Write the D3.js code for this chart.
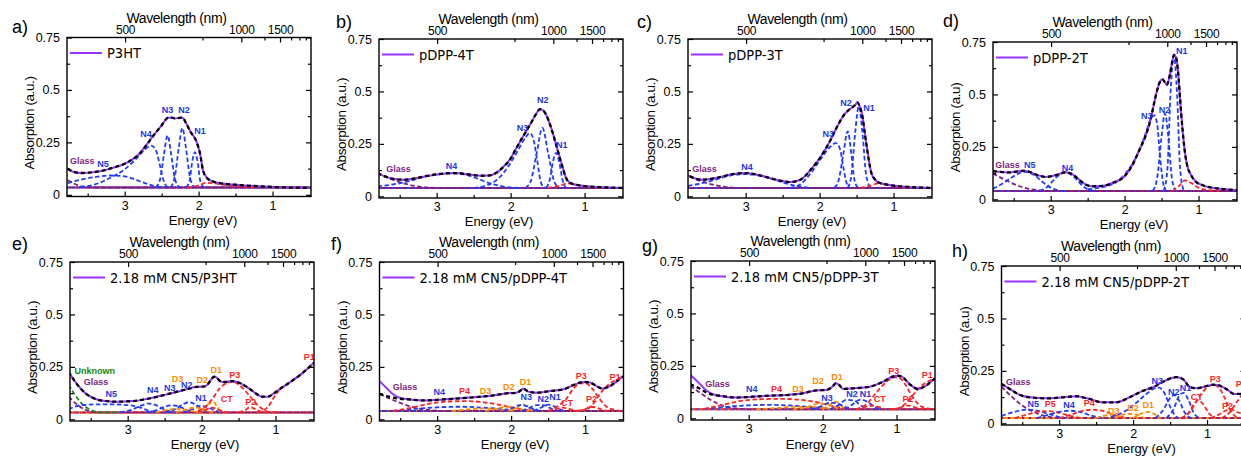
<!DOCTYPE html>
<html><head><meta charset="utf-8">
<script src="https://cdn.jsdelivr.net/npm/d3@7"></script>
<style>
html,body{margin:0;padding:0;background:#fff;}
svg{display:block;}
</style></head><body>
<svg id="fig" width="1241" height="456"></svg>
<script>
// ---------- shared axes ----------
const energyDomain = [3.78, 0.48];           // eV, high energy on the left
const wavelengthDomain = [400, 2500];         // nm, top axis on a reciprocal scale
const absorptionDomain = [-0.008, 0.75];
const absorptionTicks = [0, 0.25, 0.5, 0.75];
const absorptionTickLabels = ["0", "0.25", "0.5", "0.75"];
const absorptionMinorTicks = [0.125, 0.375, 0.625];
const energyTicks = [3, 2, 1];
const energyMinorTicks = [3.5, 2.5, 1.5];
const wavelengthTicks = [500, 1000, 1500];
const wavelengthMinorTicks = [750, 1250, 1750, 2000, 2250];

// ---------- a) P3HT ----------
const aMeasured = [[3.77,0.124],[3.68,0.108],[3.58,0.104],[3.45,0.107],[3.3,0.115],[3.15,0.13],[3.0,0.148],[2.9,0.168],[2.8,0.196],[2.7,0.24],[2.61,0.283],[2.5,0.331],[2.41,0.368],[2.36,0.368],[2.32,0.364],[2.26,0.367],[2.22,0.368],[2.16,0.335],[2.1,0.295],[2.05,0.27],[2.02,0.245],[1.98,0.196],[1.94,0.116],[1.88,0.078],[1.8,0.063],[1.7,0.055],[1.5,0.048],[1.2,0.041],[0.9,0.036],[0.48,0.033]];
const aBaseline = [[3.78,0.035],[0.48,0.035]];
const aGlass = [[3.77,0.07],[3.7,0.056],[3.62,0.044],[3.52,0.037],[3.4,0.035],[0.48,0.035]];
const aN5 = [[3.77,0.056],[3.6,0.072],[3.4,0.085],[3.2,0.092],[3.0,0.088],[2.85,0.072],[2.72,0.055],[2.6,0.042],[2.5,0.035]];
const aN4 = [[3.6,0.037],[3.4,0.05],[3.2,0.08],[3.0,0.122],[2.85,0.17],[2.73,0.215],[2.64,0.235],[2.58,0.215],[2.53,0.15],[2.48,0.075],[2.43,0.04],[2.38,0.035]];
const aN3 = [[2.58,0.035],[2.52,0.075],[2.47,0.19],[2.42,0.283],[2.37,0.19],[2.32,0.075],[2.26,0.035]];
const aN2 = [[2.38,0.035],[2.32,0.09],[2.27,0.22],[2.22,0.318],[2.17,0.22],[2.12,0.09],[2.06,0.035]];
const aN1 = [[2.17,0.035],[2.12,0.07],[2.09,0.15],[2.05,0.204],[2.01,0.15],[1.98,0.07],[1.93,0.035]];
const aP = [[2.15,0.035],[2.0,0.045],[1.9,0.057],[1.8,0.055],[1.65,0.047],[1.45,0.04],[1.2,0.035]];

// ---------- b) pDPP-4T ----------
const bMeasured = [[3.8,0.111],[3.7,0.095],[3.6,0.084],[3.45,0.079],[3.3,0.085],[3.15,0.096],[2.92,0.108],[2.74,0.111],[2.56,0.104],[2.4,0.098],[2.3,0.099],[2.2,0.111],[2.1,0.14],[2.0,0.18],[1.93,0.225],[1.85,0.275],[1.79,0.31],[1.72,0.352],[1.66,0.39],[1.6,0.415],[1.56,0.41],[1.52,0.389],[1.47,0.345],[1.43,0.302],[1.38,0.24],[1.34,0.191],[1.29,0.13],[1.25,0.087],[1.2,0.066],[1.16,0.059],[1.0,0.049],[0.8,0.044],[0.48,0.04]];
const bBaseline = [[3.78,0.04],[0.48,0.04]];
const bGlass = [[3.8,0.111],[3.7,0.095],[3.6,0.08],[3.45,0.062],[3.3,0.05],[3.15,0.043],[3.0,0.04],[0.48,0.04]];
const bN4 = [[3.8,0.048],[3.6,0.056],[3.4,0.07],[3.2,0.09],[3.0,0.104],[2.8,0.11],[2.6,0.102],[2.45,0.085],[2.3,0.064],[2.15,0.05],[2.0,0.042],[1.85,0.04]];
const bN3 = [[2.5,0.04],[2.3,0.055],[2.15,0.09],[2.0,0.16],[1.9,0.22],[1.8,0.28],[1.74,0.302],[1.69,0.27],[1.64,0.17],[1.6,0.08],[1.56,0.045],[1.52,0.04]];
const bN2 = [[1.8,0.04],[1.73,0.07],[1.65,0.2],[1.57,0.326],[1.49,0.2],[1.41,0.07],[1.34,0.04]];
const bN1 = [[1.52,0.04],[1.47,0.08],[1.43,0.16],[1.385,0.207],[1.34,0.16],[1.3,0.08],[1.25,0.04]];
const bP = [[1.5,0.04],[1.35,0.05],[1.22,0.062],[1.1,0.055],[0.95,0.045],[0.8,0.04]];

// ---------- c) pDPP-3T ----------
const cMeasured = [[3.84,0.111],[3.72,0.09],[3.59,0.079],[3.4,0.087],[3.22,0.103],[3.0,0.111],[2.81,0.1],[2.6,0.08],[2.4,0.068],[2.26,0.079],[2.12,0.127],[1.98,0.191],[1.85,0.27],[1.76,0.334],[1.66,0.393],[1.57,0.421],[1.52,0.435],[1.49,0.448],[1.46,0.43],[1.43,0.397],[1.37,0.254],[1.3,0.111],[1.25,0.08],[1.21,0.067],[1.02,0.052],[0.8,0.045],[0.48,0.04]];
const cBaseline = [[3.78,0.04],[0.48,0.04]];
const cGlass = [[3.84,0.111],[3.7,0.085],[3.55,0.066],[3.4,0.052],[3.25,0.044],[3.1,0.04],[0.48,0.04]];
const cN4 = [[3.78,0.05],[3.6,0.062],[3.4,0.08],[3.2,0.1],[3.0,0.106],[2.8,0.098],[2.6,0.078],[2.42,0.058],[2.25,0.046],[2.1,0.04]];
const cN3 = [[2.4,0.04],[2.25,0.06],[2.12,0.11],[1.98,0.18],[1.86,0.235],[1.78,0.254],[1.72,0.22],[1.68,0.14],[1.64,0.07],[1.6,0.04]];
const cN2 = [[1.8,0.04],[1.74,0.08],[1.68,0.2],[1.62,0.31],[1.57,0.2],[1.53,0.08],[1.48,0.04]];
const cN1 = [[1.62,0.04],[1.57,0.1],[1.52,0.3],[1.47,0.43],[1.42,0.3],[1.37,0.1],[1.31,0.04]];
const cP = [[1.45,0.04],[1.3,0.052],[1.2,0.062],[1.1,0.056],[0.95,0.046],[0.8,0.04]];

// ---------- d) pDPP-2T ----------
const dMeasured = [[3.78,0.134],[3.65,0.13],[3.56,0.128],[3.45,0.133],[3.38,0.136],[3.28,0.13],[3.2,0.118],[3.07,0.107],[2.93,0.115],[2.8,0.129],[2.71,0.12],[2.62,0.095],[2.57,0.08],[2.44,0.062],[2.3,0.064],[2.15,0.08],[2.0,0.11],[1.9,0.16],[1.8,0.235],[1.72,0.3],[1.65,0.378],[1.6,0.46],[1.56,0.52],[1.52,0.562],[1.49,0.572],[1.46,0.56],[1.43,0.546],[1.39,0.59],[1.36,0.649],[1.33,0.689],[1.3,0.67],[1.28,0.62],[1.25,0.48],[1.22,0.346],[1.19,0.24],[1.16,0.171],[1.1,0.115],[1.04,0.085],[0.95,0.068],[0.87,0.059],[0.7,0.05],[0.48,0.043]];
const dBaseline = [[3.78,0.04],[0.48,0.04]];
const dGlass = [[3.78,0.123],[3.6,0.09],[3.45,0.066],[3.3,0.05],[3.15,0.043],[3.0,0.04],[0.48,0.04]];
const dN5 = [[3.78,0.05],[3.65,0.075],[3.5,0.11],[3.36,0.131],[3.22,0.115],[3.1,0.08],[2.98,0.052],[2.88,0.042],[2.8,0.04]];
const dN4 = [[3.15,0.04],[3.05,0.058],[2.93,0.103],[2.8,0.128],[2.68,0.105],[2.56,0.062],[2.46,0.042],[2.38,0.04]];
const dN3 = [[2.5,0.048],[2.3,0.058],[2.1,0.085],[1.95,0.14],[1.82,0.22],[1.72,0.31],[1.64,0.39],[1.6,0.4],[1.56,0.36],[1.52,0.2],[1.48,0.08],[1.44,0.04]];
const dN2 = [[1.62,0.04],[1.56,0.1],[1.5,0.3],[1.455,0.41],[1.41,0.3],[1.36,0.1],[1.31,0.04]];
const dN1 = [[1.47,0.04],[1.42,0.15],[1.38,0.5],[1.335,0.685],[1.29,0.5],[1.25,0.15],[1.2,0.04]];
const dP = [[1.35,0.04],[1.26,0.065],[1.18,0.09],[1.1,0.078],[1.0,0.055],[0.9,0.045],[0.7,0.04]];

// ---------- e) 2.18 mM CN5/P3HT ----------
const eMeasured = [[3.8,0.227],[3.71,0.179],[3.64,0.148],[3.57,0.124],[3.48,0.104],[3.39,0.092],[3.28,0.087],[3.16,0.084],[2.93,0.087],[2.7,0.1],[2.47,0.119],[2.24,0.14],[2.06,0.155],[1.97,0.156],[1.93,0.162],[1.88,0.185],[1.83,0.203],[1.8,0.2],[1.76,0.185],[1.72,0.178],[1.67,0.178],[1.6,0.182],[1.53,0.179],[1.47,0.171],[1.4,0.157],[1.33,0.14],[1.26,0.122],[1.19,0.108],[1.1,0.108],[1.03,0.122],[0.96,0.14],[0.83,0.171],[0.64,0.219],[0.48,0.27]];
const eBaseline = [[3.78,0.033],[0.48,0.033]];
const eUnknown = [[3.8,0.165],[3.72,0.12],[3.62,0.075],[3.52,0.048],[3.42,0.036],[3.3,0.033],[3.1,0.033]];
const eGlass = [[3.8,0.108],[3.7,0.075],[3.6,0.05],[3.5,0.038],[3.4,0.033],[0.48,0.033]];
const eN5 = [[3.8,0.048],[3.65,0.066],[3.45,0.071],[3.2,0.071],[3.0,0.068],[2.85,0.058],[2.72,0.042],[2.62,0.033]];
const eN4 = [[3.1,0.033],[2.95,0.045],[2.82,0.065],[2.72,0.075],[2.62,0.068],[2.52,0.05],[2.42,0.036],[2.32,0.033]];
const eN3 = [[2.75,0.033],[2.6,0.045],[2.5,0.06],[2.4,0.067],[2.3,0.06],[2.2,0.045],[2.1,0.033]];
const eN2 = [[2.5,0.033],[2.35,0.05],[2.25,0.072],[2.17,0.082],[2.09,0.072],[2.0,0.05],[1.9,0.033]];
const eN1 = [[2.25,0.033],[2.12,0.048],[2.02,0.064],[1.94,0.06],[1.84,0.045],[1.74,0.033]];
const eD3 = [[2.62,0.033],[2.48,0.044],[2.34,0.05],[2.2,0.045],[2.06,0.035],[1.98,0.033]];
const eD2 = [[2.35,0.033],[2.22,0.045],[2.1,0.056],[1.99,0.05],[1.9,0.036],[1.84,0.033]];
const eD1 = [[2.08,0.033],[1.98,0.05],[1.9,0.074],[1.84,0.082],[1.79,0.06],[1.75,0.036],[1.72,0.033]];
const eCT = [[2.05,0.033],[1.95,0.045],[1.86,0.056],[1.77,0.046],[1.67,0.034],[1.6,0.033]];
const eP3 = [[2.05,0.04],[1.95,0.06],[1.85,0.1],[1.75,0.15],[1.65,0.174],[1.58,0.179],[1.5,0.166],[1.42,0.14],[1.3,0.09],[1.2,0.055],[1.1,0.036],[1.0,0.033]];
const eP2 = [[1.5,0.033],[1.42,0.043],[1.34,0.058],[1.26,0.046],[1.17,0.034],[1.1,0.033]];
const eP1 = [[1.25,0.033],[1.17,0.042],[1.1,0.06],[1.03,0.1],[0.96,0.135],[0.83,0.17],[0.64,0.219],[0.48,0.27]];

// ---------- f) 2.18 mM CN5/pDPP-4T ----------
const fMeasured = [[3.78,0.182],[3.69,0.151],[3.62,0.127],[3.56,0.111],[3.47,0.1],[3.38,0.095],[3.15,0.09],[2.92,0.095],[2.7,0.1],[2.47,0.106],[2.24,0.114],[2.06,0.124],[1.93,0.127],[1.88,0.135],[1.84,0.146],[1.8,0.14],[1.77,0.132],[1.66,0.127],[1.47,0.135],[1.29,0.143],[1.16,0.163],[1.06,0.176],[1.0,0.178],[0.93,0.175],[0.86,0.162],[0.77,0.147],[0.72,0.15],[0.66,0.159],[0.57,0.182],[0.48,0.206]];
const fFit = [[3.78,0.122],[3.65,0.108],[3.5,0.098],[3.38,0.095],[3.15,0.09],[2.92,0.095],[2.7,0.1],[2.47,0.106],[2.24,0.114],[2.06,0.124],[1.93,0.127],[1.88,0.135],[1.84,0.146],[1.8,0.14],[1.77,0.132],[1.66,0.127],[1.47,0.135],[1.29,0.143],[1.16,0.163],[1.06,0.176],[1.0,0.178],[0.93,0.175],[0.86,0.162],[0.77,0.147],[0.72,0.15],[0.66,0.159],[0.57,0.182],[0.48,0.206]];
const fBaseline = [[3.78,0.04],[0.48,0.04]];
const fGlass = [[3.78,0.12],[3.65,0.1],[3.5,0.078],[3.35,0.06],[3.2,0.048],[3.05,0.042],[2.9,0.04],[0.48,0.04]];
const fN4 = [[3.6,0.04],[3.3,0.05],[3.0,0.057],[2.7,0.06],[2.4,0.056],[2.1,0.048],[1.9,0.04]];
const fP4 = [[3.6,0.04],[3.35,0.055],[3.1,0.075],[2.85,0.085],[2.6,0.087],[2.35,0.08],[2.1,0.065],[1.9,0.05],[1.7,0.04]];
const fD3 = [[2.8,0.04],[2.55,0.048],[2.4,0.052],[2.25,0.05],[2.1,0.045],[1.95,0.04]];
const fD2 = [[2.35,0.04],[2.2,0.05],[2.05,0.06],[1.95,0.055],[1.85,0.045],[1.75,0.04]];
const fD1 = [[2.0,0.04],[1.92,0.055],[1.85,0.072],[1.8,0.066],[1.74,0.046],[1.7,0.04]];
const fN3 = [[2.1,0.04],[1.98,0.055],[1.88,0.068],[1.78,0.062],[1.68,0.046],[1.6,0.04]];
const fN2 = [[1.85,0.04],[1.75,0.055],[1.65,0.068],[1.55,0.066],[1.45,0.05],[1.38,0.04]];
const fN1 = [[1.7,0.04],[1.6,0.055],[1.5,0.07],[1.42,0.062],[1.33,0.046],[1.27,0.04]];
const fCT = [[1.5,0.04],[1.38,0.05],[1.3,0.056],[1.22,0.05],[1.12,0.04]];
const fP3 = [[1.5,0.04],[1.38,0.06],[1.25,0.1],[1.15,0.15],[1.05,0.172],[0.98,0.17],[0.9,0.145],[0.8,0.095],[0.7,0.058],[0.6,0.045],[0.48,0.04]];
const fP2 = [[1.1,0.04],[1.0,0.048],[0.92,0.06],[0.85,0.056],[0.75,0.043],[0.65,0.04]];
const fP1 = [[1.15,0.04],[1.0,0.045],[0.9,0.07],[0.8,0.12],[0.7,0.16],[0.6,0.185],[0.48,0.205]];

// ---------- g) 2.18 mM CN5/pDPP-3T ----------
const gMeasured = [[3.79,0.207],[3.69,0.175],[3.58,0.135],[3.48,0.115],[3.4,0.108],[3.17,0.099],[2.95,0.103],[2.72,0.108],[2.49,0.111],[2.27,0.119],[2.09,0.133],[1.95,0.135],[1.87,0.15],[1.82,0.167],[1.78,0.16],[1.72,0.14],[1.59,0.143],[1.36,0.151],[1.18,0.175],[1.05,0.199],[0.99,0.203],[0.93,0.199],[0.82,0.162],[0.71,0.14],[0.59,0.159],[0.48,0.191]];
const gFit = [[3.79,0.162],[3.67,0.143],[3.55,0.12],[3.45,0.11],[3.4,0.108],[3.17,0.099],[2.95,0.103],[2.72,0.108],[2.49,0.111],[2.27,0.119],[2.09,0.133],[1.95,0.135],[1.87,0.15],[1.82,0.167],[1.78,0.16],[1.72,0.14],[1.59,0.143],[1.36,0.151],[1.18,0.175],[1.05,0.199],[0.99,0.203],[0.93,0.199],[0.82,0.162],[0.71,0.14],[0.59,0.159],[0.48,0.191]];
const gBaseline = [[3.78,0.043],[0.48,0.043]];
const gGlass = [[3.79,0.155],[3.65,0.12],[3.5,0.085],[3.35,0.06],[3.2,0.048],[3.0,0.043],[0.48,0.043]];
const gN4 = [[3.6,0.045],[3.3,0.055],[3.0,0.062],[2.7,0.064],[2.4,0.06],[2.1,0.052],[1.9,0.045]];
const gP4 = [[3.6,0.045],[3.4,0.06],[3.15,0.08],[2.9,0.09],[2.6,0.093],[2.3,0.088],[2.05,0.075],[1.85,0.058],[1.65,0.045]];
const gD3 = [[2.9,0.043],[2.6,0.05],[2.4,0.055],[2.2,0.055],[2.0,0.05],[1.85,0.043]];
const gD2 = [[2.4,0.043],[2.2,0.055],[2.05,0.07],[1.95,0.068],[1.85,0.055],[1.75,0.043]];
const gD1 = [[2.0,0.043],[1.9,0.065],[1.83,0.08],[1.77,0.07],[1.72,0.05],[1.68,0.043]];
const gN3 = [[2.15,0.043],[2.0,0.06],[1.9,0.075],[1.8,0.07],[1.7,0.055],[1.6,0.043]];
const gN2 = [[1.9,0.043],[1.78,0.065],[1.68,0.088],[1.58,0.085],[1.48,0.06],[1.4,0.043]];
const gN1 = [[1.7,0.043],[1.6,0.065],[1.5,0.088],[1.4,0.08],[1.3,0.055],[1.22,0.043]];
const gCT = [[1.55,0.043],[1.42,0.055],[1.33,0.06],[1.25,0.055],[1.15,0.043]];
const gP3 = [[1.55,0.043],[1.4,0.07],[1.28,0.12],[1.15,0.17],[1.03,0.195],[0.95,0.19],[0.88,0.16],[0.78,0.1],[0.68,0.06],[0.58,0.047],[0.48,0.043]];
const gP2 = [[1.05,0.043],[0.95,0.05],[0.88,0.062],[0.8,0.058],[0.7,0.047],[0.6,0.043]];
const gP1 = [[1.1,0.043],[0.98,0.048],[0.88,0.07],[0.78,0.11],[0.68,0.15],[0.58,0.175],[0.48,0.19]];

// ---------- h) 2.18 mM CN5/pDPP-2T ----------
const hMeasured = [[3.78,0.188],[3.67,0.164],[3.53,0.135],[3.4,0.124],[3.17,0.119],[2.95,0.124],[2.77,0.129],[2.59,0.116],[2.41,0.1],[2.23,0.1],[2.05,0.124],[1.86,0.156],[1.73,0.172],[1.59,0.199],[1.48,0.216],[1.41,0.22],[1.32,0.209],[1.23,0.172],[1.14,0.167],[1.01,0.177],[0.92,0.184],[0.87,0.183],[0.74,0.164],[0.63,0.14],[0.54,0.14],[0.48,0.145]];
const hBaseline = [[3.78,0.025],[0.48,0.025]];
const hGlass = [[3.78,0.175],[3.65,0.13],[3.5,0.085],[3.35,0.055],[3.2,0.035],[3.05,0.027],[2.9,0.025],[0.48,0.025]];
const hN5 = [[3.78,0.035],[3.6,0.055],[3.45,0.065],[3.3,0.06],[3.15,0.045],[3.0,0.03],[2.9,0.025]];
const hP5 = [[3.6,0.025],[3.45,0.04],[3.3,0.055],[3.15,0.058],[3.0,0.05],[2.85,0.035],[2.7,0.025]];
const hN4 = [[3.3,0.025],[3.15,0.04],[3.0,0.055],[2.85,0.06],[2.7,0.052],[2.55,0.035],[2.4,0.025]];
const hP4 = [[3.0,0.025],[2.85,0.04],[2.7,0.058],[2.55,0.065],[2.4,0.058],[2.25,0.04],[2.1,0.025]];
const hD3 = [[2.5,0.025],[2.4,0.035],[2.3,0.04],[2.2,0.035],[2.1,0.025]];
const hD2 = [[2.25,0.025],[2.15,0.04],[2.05,0.045],[1.95,0.04],[1.85,0.025]];
const hD1 = [[2.0,0.025],[1.9,0.045],[1.8,0.055],[1.72,0.045],[1.62,0.025]];
const hN3 = [[2.3,0.03],[2.1,0.06],[1.95,0.1],[1.82,0.14],[1.72,0.165],[1.65,0.17],[1.57,0.14],[1.5,0.08],[1.43,0.035],[1.38,0.025]];
const hN2 = [[1.7,0.025],[1.6,0.06],[1.5,0.12],[1.44,0.135],[1.38,0.11],[1.3,0.05],[1.22,0.025]];
const hN1 = [[1.55,0.025],[1.45,0.07],[1.38,0.13],[1.32,0.145],[1.25,0.11],[1.18,0.05],[1.1,0.025]];
const hCT = [[1.35,0.025],[1.25,0.05],[1.18,0.09],[1.12,0.11],[1.05,0.09],[0.98,0.05],[0.9,0.025]];
const hP3 = [[1.35,0.025],[1.22,0.06],[1.12,0.12],[1.0,0.17],[0.92,0.183],[0.84,0.17],[0.76,0.12],[0.68,0.06],[0.6,0.03],[0.5,0.025]];
const hP2 = [[0.95,0.025],[0.85,0.04],[0.75,0.06],[0.68,0.065],[0.6,0.055],[0.5,0.04]];
const hP1 = [[0.8,0.025],[0.7,0.05],[0.6,0.1],[0.48,0.16]];

// ---------- styling ----------
const lineColor = {N:"#1f3cff", D:"#ff8a00", P:"#ff2424", glass:"#7e1f7e", unknown:"#138a13"};
const textColor = {N:"#2236e6", D:"#ff8a00", P:"#ff1f1f", glass:"#7e1f7e", unknown:"#128712"};
const measuredColor = "#9933ff";

const panels = [
  {letter:"a)", lx:12, ly:33, x:67, y:37.5, ex:136, ey:28, name:"P3HT", ylabel:"Absorption (a.u.)",
   measured:aMeasured, fit:aMeasured, baseline:aBaseline, baseKinds:["P","N","glass"],
   comps:[[aGlass,"glass"],[aN5,"N"],[aN4,"N"],[aN3,"N"],[aN2,"N"],[aN1,"N"],[aP,"P"]],
   labels:[["Glass",3.738,0.148,"glass"],["N5",3.371,0.132,"N"],["N4",2.79,0.275,"N"],["N3",2.5,0.39,"N"],["N2",2.275,0.39,"N"],["N1",2.06,0.29,"N"]]},
  {letter:"b)", lx:336, ly:28, x:379, y:39, ex:120, ey:28, name:"pDPP-4T", ylabel:"Absorption (a.u.)",
   measured:bMeasured, fit:bMeasured, baseline:bBaseline, baseKinds:["P","N","glass"],
   comps:[[bGlass,"glass"],[bN4,"N"],[bN3,"N"],[bN2,"N"],[bN1,"N"],[bP,"P"]],
   labels:[["Glass",3.683,0.114,"glass"],["N4",2.878,0.13,"N"],["N3",1.918,0.31,"N"],["N2",1.643,0.445,"N"],["N1",1.385,0.229,"N"]]},
  {letter:"c)", lx:637, ly:28, x:688, y:39, ex:124, ey:28, name:"pDPP-3T", ylabel:"Absorption (a.u.)",
   measured:cMeasured, fit:cMeasured, baseline:cBaseline, baseKinds:["P","N","glass"],
   comps:[[cGlass,"glass"],[cN4,"N"],[cN3,"N"],[cN2,"N"],[cN1,"N"],[cP,"P"]],
   labels:[["Glass",3.723,0.114,"glass"],["N4",3.06,0.127,"N"],["N3",1.96,0.281,"N"],["N2",1.72,0.432,"N"],["N1",1.41,0.408,"N"]]},
  {letter:"d)", lx:943, ly:27, x:993, y:42, ex:141, ey:27.5, name:"pDPP-2T", ylabel:"Absorption (a.u)",
   measured:dMeasured, fit:dMeasured, baseline:dBaseline, baseKinds:["P","N","glass"],
   comps:[[dGlass,"glass"],[dN5,"N"],[dN4,"N"],[dN3,"N"],[dN2,"N"],[dN1,"N"],[dP,"P"]],
   labels:[["Glass",3.75,0.15,"glass"],["N5",3.36,0.147,"N"],["N4",2.85,0.136,"N"],["N3",1.778,0.383,"N"],["N2",1.539,0.41,"N"],["N1",1.306,0.694,"N"]]},
  {letter:"e)", lx:12, ly:250, x:70, y:262, ex:135, ey:28, name:"2.18 mM CN5/P3HT", ylabel:"Absorption (a.u.)",
   measured:eMeasured, fit:eMeasured, baseline:eBaseline, baseKinds:["D","glass","P"],
   comps:[[eGlass,"glass"],[eUnknown,"unknown"],[eN5,"N"],[eN4,"N"],[eN3,"N"],[eN2,"N"],[eN1,"N"],[eD3,"D"],[eD2,"D"],[eD1,"D"],[eCT,"P"],[eP3,"P"],[eP2,"P"],[eP1,"P"]],
   labels:[["Unknown",3.72,0.214,"unknown"],["Glass",3.595,0.163,"glass"],["N5",3.3,0.108,"N"],["N4",2.74,0.124,"N"],["N3",2.51,0.136,"N"],["N2",2.28,0.147,"N"],["N1",2.085,0.089,"N"],["D3",2.405,0.179,"D"],["D2",2.07,0.171,"D"],["D1",1.88,0.219,"D"],["P3",1.627,0.198,"P"],["CT",1.74,0.084,"P"],["P2",1.41,0.068,"P"],["P1",0.62,0.282,"P"]]},
  {letter:"f)", lx:331, ly:250, x:379.5, y:262, ex:135.5, ey:28, name:"2.18 mM CN5/pDPP-4T", ylabel:"Absorption (a.u.)",
   measured:fMeasured, fit:fFit, baseline:fBaseline, baseKinds:["D","N","glass"],
   comps:[[fGlass,"glass"],[fN4,"N"],[fP4,"P"],[fD3,"D"],[fD2,"D"],[fD1,"D"],[fN3,"N"],[fN2,"N"],[fN1,"N"],[fCT,"P"],[fP3,"P"],[fP2,"P"],[fP1,"P"]],
   labels:[["Glass",3.6,0.138,"glass"],["N4",3.05,0.116,"N"],["P4",2.706,0.122,"P"],["D3",2.425,0.122,"D"],["D2",2.11,0.14,"D"],["D1",1.882,0.166,"D"],["N3",1.873,0.092,"N"],["N2",1.643,0.084,"N"],["N1",1.484,0.09,"N"],["CT",1.326,0.063,"P"],["P3",1.127,0.19,"P"],["P2",0.986,0.084,"P"],["P1",0.67,0.186,"P"]]},
  {letter:"g)", lx:642, ly:252, x:691, y:261, ex:129, ey:28.5, name:"2.18 mM CN5/pDPP-3T", ylabel:"Absorption (a.u.)",
   measured:gMeasured, fit:gFit, baseline:gBaseline, baseKinds:["D","N","P"],
   comps:[[gGlass,"glass"],[gN4,"N"],[gP4,"P"],[gD3,"D"],[gD2,"D"],[gD1,"D"],[gN3,"N"],[gN2,"N"],[gN1,"N"],[gCT,"P"],[gP3,"P"],[gP2,"P"],[gP1,"P"]],
   labels:[["Glass",3.588,0.151,"glass"],["N4",3.036,0.127,"N"],["P4",2.697,0.127,"P"],["D3",2.41,0.127,"D"],["D2",2.14,0.162,"D"],["D1",1.882,0.183,"D"],["N3",2.018,0.083,"N"],["N2",1.679,0.103,"N"],["N1",1.498,0.103,"N"],["CT",1.308,0.079,"P"],["P3",1.113,0.211,"P"],["P2",0.919,0.079,"P"],["P1",0.66,0.19,"P"]]},
  {letter:"h)", lx:952, ly:257, x:1001.5, y:266, ex:140, ey:28, name:"2.18 mM CN5/pDPP-2T", ylabel:"Absorption (a.u)",
   measured:hMeasured, fit:hMeasured, baseline:hBaseline, baseKinds:["D","glass","D"],
   comps:[[hGlass,"glass"],[hN5,"N"],[hP5,"P"],[hN4,"N"],[hP4,"P"],[hD3,"D"],[hD2,"D"],[hD1,"D"],[hN3,"N"],[hN2,"N"],[hN1,"N"],[hCT,"P"],[hP3,"P"],[hP2,"P"],[hP1,"P"]],
   labels:[["Glass",3.72,0.185,"glass"],["N5",3.428,0.08,"N"],["P5",3.194,0.08,"P"],["N4",2.946,0.073,"N"],["P4",2.667,0.084,"P"],["D3",2.338,0.045,"D"],["D2",2.08,0.057,"D"],["D1",1.874,0.073,"D"],["N3",1.752,0.188,"N"],["N2",1.527,0.137,"N"],["N1",1.369,0.153,"N"],["CT",1.22,0.113,"P"],["P3",0.964,0.199,"P"],["P2",0.797,0.068,"P"],["P1",0.613,0.175,"P"]]}
];

const W = 244, H = 159;
const svg = d3.select("#fig");
const axisFont = "'Liberation Sans', Arial, sans-serif";
const legendFont = "'Liberation Sans Narrow', 'Arial Narrow', 'DejaVu Sans Condensed', sans-serif";

panels.forEach((p, i) => {
  const g = svg.append("g").attr("transform", `translate(${p.x},${p.y})`);
  const x = d3.scaleLinear().domain(energyDomain).range([0, W]);
  const y = d3.scaleLinear().domain(absorptionDomain).range([H, 0]);
  // top axis is linear in 1/wavelength
  const xTop = d3.scaleLinear().domain(wavelengthDomain.map(l => 1 / l)).range([0, W]);

  g.append("clipPath").attr("id", "clip" + i).append("rect").attr("width", W).attr("height", H);
  const plot = g.append("g").attr("clip-path", `url(#clip${i})`);
  const line = d3.line().x(d => x(d[0])).y(d => y(d[1])).curve(d3.curveMonotoneX);

  // overlapping component baselines
  p.baseKinds.forEach((k, j) => {
    plot.append("path").datum(p.baseline).attr("d", line)
      .attr("fill", "none").attr("stroke", lineColor[k]).attr("stroke-width", 2)
      .attr("stroke-dasharray", "4,3").attr("stroke-dashoffset", j * 2.3);
  });
  // fitted components
  p.comps.forEach(([data, k]) => {
    plot.append("path").datum(data).attr("d", line)
      .attr("fill", "none").attr("stroke", lineColor[k]).attr("stroke-width", 1.8)
      .attr("stroke-dasharray", "4.5,2.5");
  });
  // measured spectrum
  plot.append("path").datum(p.measured).attr("d", line)
    .attr("fill", "none").attr("stroke", measuredColor).attr("stroke-width", 2);
  // cumulative fit
  plot.append("path").datum(p.fit).attr("d", line)
    .attr("fill", "none").attr("stroke", "#000").attr("stroke-width", 2.3)
    .attr("stroke-dasharray", "4,3");

  // peak labels
  p.labels.forEach(([t, e, a, k]) => {
    g.append("text").attr("x", x(e)).attr("y", y(a)).text(t)
      .attr("font-family", axisFont).attr("font-size", 9).attr("font-weight", "bold")
      .attr("fill", textColor[k]);
  });

  // axes with inward ticks
  const styleAxis = sel => {
    sel.select(".domain").remove();
    sel.selectAll(".tick line").attr("stroke", "#000").attr("stroke-width", 1.2);
    sel.selectAll("text").attr("font-family", axisFont).attr("fill", "#000");
  };
  g.append("g").attr("transform", `translate(0,${H})`)
    .call(d3.axisBottom(x).tickValues(energyTicks).tickSize(-5).tickSizeOuter(0).tickPadding(4.5).tickFormat(d3.format("d")))
    .call(styleAxis).selectAll("text").attr("font-size", 12.5);
  g.append("g").attr("transform", `translate(0,${H})`)
    .call(d3.axisBottom(x).tickValues(energyMinorTicks).tickSize(-3).tickSizeOuter(0).tickFormat(""))
    .call(styleAxis);
  g.append("g")
    .call(d3.axisTop(xTop).tickValues(wavelengthTicks.map(l => 1 / l)).tickSize(-5).tickSizeOuter(0).tickPadding(4)
      .tickFormat(v => Math.round(1 / v)))
    .call(styleAxis).selectAll("text").attr("font-size", 12).attr("letter-spacing", "-0.3px");
  g.append("g")
    .call(d3.axisTop(xTop).tickValues(wavelengthMinorTicks.map(l => 1 / l)).tickSize(-3).tickSizeOuter(0).tickFormat(""))
    .call(styleAxis);
  g.append("g")
    .call(d3.axisLeft(y).tickValues(absorptionTicks).tickSize(-5).tickSizeOuter(0).tickPadding(7)
      .tickFormat((v, k) => absorptionTickLabels[k]))
    .call(styleAxis).selectAll("text").attr("font-size", 12.5);
  g.append("g")
    .call(d3.axisLeft(y).tickValues(absorptionMinorTicks).tickSize(-3).tickSizeOuter(0).tickFormat(""))
    .call(styleAxis);
  g.append("g").attr("transform", `translate(${W},0)`)
    .call(d3.axisRight(y).tickValues(absorptionTicks).tickSize(-5).tickSizeOuter(0).tickFormat(""))
    .call(styleAxis);
  g.append("g").attr("transform", `translate(${W},0)`)
    .call(d3.axisRight(y).tickValues(absorptionMinorTicks).tickSize(-3).tickSizeOuter(0).tickFormat(""))
    .call(styleAxis);

  g.append("rect").attr("width", W).attr("height", H)
    .attr("fill", "none").attr("stroke", "#000").attr("stroke-width", 1.4);

  // titles
  g.append("text").attr("x", 109.5).attr("y", -15).attr("text-anchor", "middle")
    .attr("font-family", axisFont).attr("font-size", 14).attr("letter-spacing", "-0.4px")
    .text("Wavelength (nm)");
  g.append("text").attr("x", p.ex).attr("y", H + p.ey).attr("text-anchor", "middle")
    .attr("font-family", axisFont).attr("font-size", 13).attr("letter-spacing", "-0.1px")
    .text("Energy (eV)");
  g.append("text").attr("transform", `translate(-33,${H / 2 + 6}) rotate(-90)`)
    .attr("text-anchor", "middle").attr("font-family", axisFont).attr("font-size", 13.5)
    .attr("letter-spacing", "-0.4px").text(p.ylabel);

  // legend
  g.append("line").attr("x1", 3).attr("x2", 35).attr("y1", 15.5).attr("y2", 15.5)
    .attr("stroke", measuredColor).attr("stroke-width", 2);
  g.append("text").attr("x", 40).attr("y", 20.5).attr("font-family", legendFont)
    .attr("font-size", 14.5).text(p.name);

  svg.append("text").attr("x", p.lx).attr("y", p.ly).attr("font-family", axisFont)
    .attr("font-size", 18).text(p.letter);
});
</script>
</body></html>
